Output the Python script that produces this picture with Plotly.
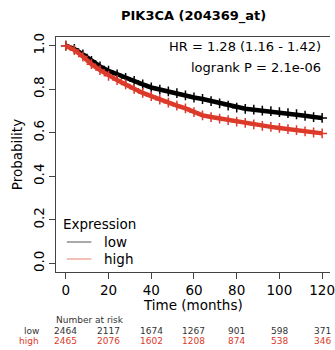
import plotly.graph_objects as go

# ---- data ----
months = [0, 4, 8, 12, 16, 20, 24, 28, 32, 36, 40, 44, 48, 52, 56, 60,
          64, 68, 72, 76, 80, 84, 88, 92, 96, 100, 104, 108, 112, 116, 120]
low_surv = [1.0, 0.985, 0.960, 0.930, 0.905, 0.885, 0.868, 0.852, 0.838, 0.822,
            0.808, 0.798, 0.790, 0.782, 0.772, 0.762, 0.755, 0.745, 0.735, 0.725,
            0.715, 0.710, 0.706, 0.702, 0.699, 0.695, 0.690, 0.685, 0.678, 0.672, 0.668]
high_surv = [1.0, 0.980, 0.950, 0.915, 0.888, 0.862, 0.842, 0.822, 0.802, 0.783,
             0.768, 0.752, 0.738, 0.725, 0.712, 0.695, 0.680, 0.672, 0.665, 0.658,
             0.651, 0.645, 0.638, 0.632, 0.627, 0.622, 0.617, 0.612, 0.606, 0.601, 0.597]

risk_times = [0, 20, 40, 60, 80, 100, 120]
risk_low = [2464, 2117, 1674, 1267, 901, 598, 371]
risk_high = [2465, 2076, 1602, 1208, 874, 538, 346]

x_ticks = [0, 20, 40, 60, 80, 100, 120]
y_ticks = [0.0, 0.2, 0.4, 0.6, 0.8, 1.0]
y_tick_text = ["0.0", "0.2", "0.4", "0.6", "0.8", "1.0"]

title_text = "PIK3CA (204369_at)"
hr_text = "HR = 1.28 (1.16 - 1.42)"
p_text = "logrank P = 2.1e-06"

BLACK = "#000000"
RED = "#DC3A2A"
FONT = "DejaVu Sans"

W, H = 335, 350
L, R, T, B = 56, 0, 37, 78


def xp(px):
    return (px - L) / (W - L - R)


def yp(py):
    return (H - B - py) / (H - T - B)


fig = go.Figure()
for surv, col, name in [(low_surv, BLACK, "low"), (high_surv, RED, "high")]:
    fig.add_trace(go.Scatter(
        x=months, y=surv, mode="lines+markers", name=name,
        line=dict(color=col, width=4.5),
        marker=dict(symbol="cross-thin", size=7, line=dict(color=col, width=1.5)),
        showlegend=False, hoverinfo="skip"))

ann = []
ann.append(dict(text="<b>" + title_text + "</b>", x=xp(196), y=yp(16), xref="paper", yref="paper",
                showarrow=False, xanchor="center", yanchor="middle",
                font=dict(size=13, color="#000")))
ann.append(dict(text="Probability", x=xp(16.5), y=yp(155), xref="paper", yref="paper",
                showarrow=False, xanchor="center", yanchor="middle", textangle=-90,
                font=dict(size=13.5, color="#000")))
ann.append(dict(text="Time (months)", x=xp(196), y=yp(305), xref="paper", yref="paper",
                showarrow=False, xanchor="center", yanchor="middle",
                font=dict(size=13.5, color="#000")))
ann.append(dict(text=hr_text, x=xp(328), y=yp(47), xref="paper", yref="paper",
                showarrow=False, xanchor="right", yanchor="middle",
                font=dict(size=13, color="#000")))
ann.append(dict(text=p_text, x=xp(328), y=yp(67), xref="paper", yref="paper",
                showarrow=False, xanchor="right", yanchor="middle",
                font=dict(size=13, color="#000")))
# legend
ann.append(dict(text="Expression", x=xp(61), y=yp(224), xref="paper", yref="paper",
                showarrow=False, xanchor="left", yanchor="middle",
                font=dict(size=13.5, color="#000")))
ann.append(dict(text="low", x=xp(103), y=yp(242), xref="paper", yref="paper",
                showarrow=False, xanchor="left", yanchor="middle",
                font=dict(size=13.5, color="#000")))
ann.append(dict(text="high", x=xp(103), y=yp(259), xref="paper", yref="paper",
                showarrow=False, xanchor="left", yanchor="middle",
                font=dict(size=13.5, color="#000")))
# number at risk
ann.append(dict(text="Number at risk", x=xp(54), y=yp(320), xref="paper", yref="paper",
                showarrow=False, xanchor="left", yanchor="middle",
                font=dict(size=9, color="#333")))
ann.append(dict(text="low", x=xp(41), y=yp(331), xref="paper", yref="paper",
                showarrow=False, xanchor="right", yanchor="middle",
                font=dict(size=9, color="#333")))
ann.append(dict(text="high", x=xp(41), y=yp(341), xref="paper", yref="paper",
                showarrow=False, xanchor="right", yanchor="middle",
                font=dict(size=9, color=RED)))
for t, nl, nh in zip(risk_times, risk_low, risk_high):
    ann.append(dict(text=str(nl), x=t, y=yp(331), xref="x", yref="paper",
                    showarrow=False, xanchor="center", yanchor="middle",
                    font=dict(size=9, color="#333")))
    ann.append(dict(text=str(nh), x=t, y=yp(341), xref="x", yref="paper",
                    showarrow=False, xanchor="center", yanchor="middle",
                    font=dict(size=9, color=RED)))

shapes = [
    dict(type="line", xref="paper", yref="paper", x0=xp(67), x1=xp(92), y0=yp(242), y1=yp(242),
         line=dict(color="#555", width=1)),
    dict(type="line", xref="paper", yref="paper", x0=xp(67), x1=xp(92), y0=yp(259), y1=yp(259),
         line=dict(color="#E88070", width=1)),
]

px_per_month = 2.175
x0 = -(66 - L) / px_per_month
x1 = x0 + (W - L - R) / px_per_month

fig.update_layout(
    width=W, height=H,
    margin=dict(l=L, r=R, t=T, b=B),
    paper_bgcolor="white", plot_bgcolor="white",
    font=dict(family=FONT, size=14, color="#000"),
    annotations=ann, shapes=shapes,
    xaxis=dict(range=[x0, x1], tickvals=x_ticks, ticks="outside", ticklen=6,
               tickcolor="#444", showline=True, linecolor="#444", linewidth=1,
               mirror=True, showgrid=False, zeroline=False, ticklabeloverflow="allow",
               tickfont=dict(size=13.5, family=FONT)),
    yaxis=dict(range=[-0.04, 1.04], tickvals=y_ticks, ticktext=y_tick_text,
               ticks="outside", ticklen=6, tickcolor="#444", tickangle=-90,
               showline=True, linecolor="#444", linewidth=1, mirror=False,
               showgrid=False, zeroline=False,
               tickfont=dict(size=13.5, family=FONT)),
)

fig.write_html("out.html", config={"displayModeBar": False},
               post_script="document.body.style.margin='0';document.body.style.overflow='hidden';")
